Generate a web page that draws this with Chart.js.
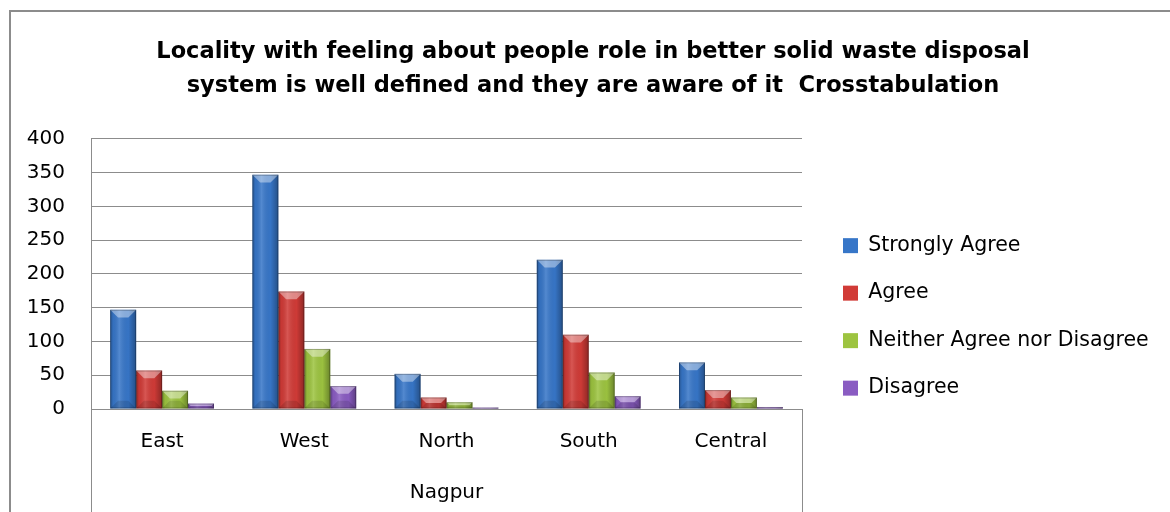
<!DOCTYPE html>
<html>
<head>
<meta charset="utf-8">
<title>Locality crosstabulation</title>
<script src="https://cdn.jsdelivr.net/npm/chart.js@4.4.1/dist/chart.umd.min.js"></script>
<style>
    body { margin: 0; background: #fff; }
    #wrap { position: relative; width: 1170px; height: 512px; }
</style>
</head>
<body>
<div id="wrap"><canvas id="chart"></canvas></div>
<script>
// values
const categories = ["East", "West", "North", "South", "Central"];
const stronglyAgree = [147, 347, 52, 221, 69];
const agree = [57, 174, 17, 110, 28];
const neither = [27, 89, 10, 54, 17];
const disagree = [8, 34, 2, 19, 3];
const yTicks = [0, 50, 100, 150, 200, 250, 300, 350, 400];

const titleLines = [
    "Locality with feeling about people role in better solid waste disposal",
    "system is well defined and they are aware of it  Crosstabulation"
];

const gridGray = "#8c8c8c";

Chart.defaults.font.family = "'DejaVu Sans', sans-serif";
Chart.defaults.color = "#000";

// outer frame + the box under the category axis
const framePlugin = {
    id: "frame",
    afterDraw(chart) {
        const { ctx, chartArea } = chart;
        ctx.save();
        ctx.strokeStyle = gridGray;
        ctx.lineWidth = 2;
        ctx.beginPath();
        ctx.moveTo(10, 512);
        ctx.lineTo(10, 11);
        ctx.lineTo(1170, 11);
        ctx.stroke();

        ctx.lineWidth = 1;
        ctx.beginPath();
        ctx.moveTo(Math.round(chartArea.left) + 0.5, chartArea.bottom);
        ctx.lineTo(Math.round(chartArea.left) + 0.5, 512);
        ctx.moveTo(Math.round(chartArea.right) + 0.5, chartArea.bottom);
        ctx.lineTo(Math.round(chartArea.right) + 0.5, 512);
        ctx.stroke();
        ctx.restore();
    }
};

// bevelled look on each bar, using the positions the bar elements already have
const bevelPlugin = {
    id: "bevel",
    afterDatasetsDraw(chart) {
        const ctx = chart.ctx;
        chart.data.datasets.forEach((ds, i) => {
            const meta = chart.getDatasetMeta(i);
            meta.data.forEach(bar => {
                const { x, y, base, width } = bar.getProps(["x", "y", "base", "width"], true);
                const left = x - width / 2;
                const right = x + width / 2;
                const top = Math.min(y, base);
                const bottom = Math.max(y, base);
                const h = bottom - top;
                if (h <= 0) return;

                ctx.save();
                const g = ctx.createLinearGradient(left, 0, right, 0);
                g.addColorStop(0, "rgba(0,0,0,0.28)");
                g.addColorStop(0.12, "rgba(0,0,0,0.05)");
                g.addColorStop(0.35, "rgba(255,255,255,0.14)");
                g.addColorStop(0.7, "rgba(0,0,0,0.02)");
                g.addColorStop(1, "rgba(0,0,0,0.32)");
                ctx.fillStyle = g;
                ctx.fillRect(left, top, width, h);

                const d = Math.min(width * 0.3, h / 2);
                ctx.fillStyle = "rgba(255,255,255,0.4)";
                ctx.beginPath();
                ctx.moveTo(left, top);
                ctx.lineTo(right, top);
                ctx.lineTo(right - d, top + d);
                ctx.lineTo(left + d, top + d);
                ctx.closePath();
                ctx.fill();

                ctx.fillStyle = "rgba(0,0,0,0.12)";
                ctx.beginPath();
                ctx.moveTo(left, bottom);
                ctx.lineTo(right, bottom);
                ctx.lineTo(right - d, bottom - d);
                ctx.lineTo(left + d, bottom - d);
                ctx.closePath();
                ctx.fill();

                ctx.strokeStyle = "rgba(0,0,0,0.25)";
                ctx.lineWidth = 1;
                ctx.strokeRect(left + 0.5, top + 0.5, width - 1, h - 1);
                ctx.restore();
            });
        });
    }
};

const chart = new Chart(document.getElementById("chart"), {
    type: "bar",
    data: {
        labels: categories,
        datasets: [
            { label: "Strongly Agree", data: stronglyAgree, backgroundColor: "#3776c8" },
            { label: "Agree", data: agree, backgroundColor: "#d13b37" },
            { label: "Neither Agree nor Disagree", data: neither, backgroundColor: "#9dc440" },
            { label: "Disagree", data: disagree, backgroundColor: "#8a5cc2" }
        ]
    },
    plugins: [framePlugin, bevelPlugin],
    options: {
        responsive: true,
        maintainAspectRatio: false,
        animation: false,
        layout: { padding: { left: 16, right: 0, top: 0, bottom: 0 } },
        datasets: {
            bar: { categoryPercentage: 0.73, barPercentage: 1, borderWidth: 0 }
        },
        plugins: {
            title: {
                display: true,
                text: titleLines,
                font: { size: 22.5, weight: "bold", lineHeight: 1.51 },
                color: "#000",
                padding: { top: 35, bottom: 36 }
            },
            legend: {
                position: "right",
                align: "start",
                title: { display: true, text: "", padding: { top: 0, bottom: 194 } },
                labels: {
                    boxWidth: 15,
                    boxHeight: 15,
                    padding: 27,
                    font: { size: 20.5 },
                    color: "#000"
                }
            },
            tooltip: { enabled: false }
        },
        scales: {
            x: {
                grid: { display: false },
                border: { display: true, color: gridGray },
                ticks: { padding: 13, font: { size: 20 } },
                title: { display: true, text: "Nagpur", font: { size: 20 }, padding: { top: 0, bottom: 7 } },
                afterFit(scale) { scale.height = 103; }
            },
            y: {
                min: 0,
                max: 400,
                afterBuildTicks(scale) { scale.ticks = yTicks.map(v => ({ value: v })); },
                grid: { color: gridGray, drawTicks: false },
                border: { display: true, color: gridGray },
                ticks: { padding: 26, font: { size: 20 } },
                afterFit(scale) { scale.width = 75; }
            },
            gap: {
                type: "linear",
                position: "right",
                display: true,
                grid: { display: false, drawTicks: false },
                border: { display: false },
                ticks: { display: false },
                afterFit(scale) { scale.width = 14; }
            }
        }
    }
});

// fixed legend width so the plot ends where the reference plot ends
const legendFit = chart.legend.fit;
chart.legend.fit = function () {
    legendFit.call(this);
    this.width = 354;
};
chart.update();
</script>
</body>
</html>
